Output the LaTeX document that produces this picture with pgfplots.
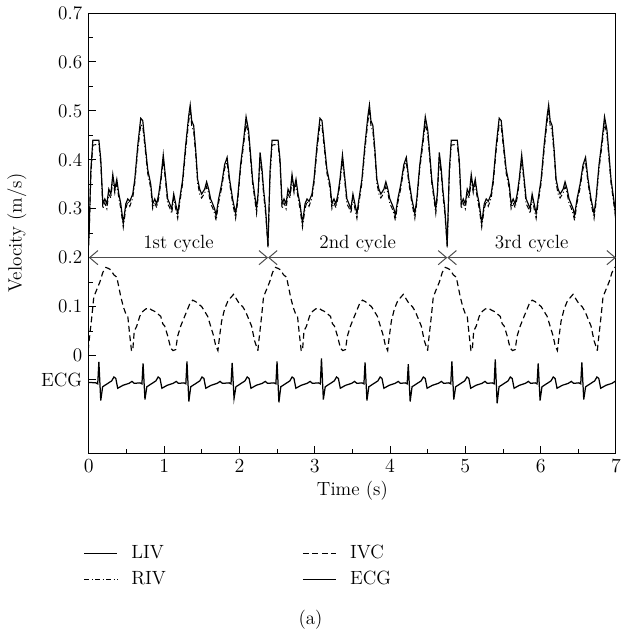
\documentclass[border=0pt]{standalone}
\usepackage{pgfplots}
\pgfplotsset{compat=1.18}
\usepackage{pgfplotstable}
\usetikzlibrary{arrows.meta}

% one breathing cycle of the vein velocities (s, m/s); the chart repeats it
\pgfplotstableread{
t      liv    riv
0.000  0.235  0.225
0.027  0.380  0.370
0.053  0.440  0.430
0.133  0.440  0.432
0.159  0.400  0.390
0.186  0.310  0.300
0.212  0.320  0.312
0.239  0.310  0.300
0.265  0.340  0.330
0.292  0.330  0.322
0.318  0.370  0.360
0.345  0.340  0.332
0.371  0.360  0.350
0.398  0.330  0.322
0.424  0.310  0.300
0.457  0.270  0.262
0.491  0.310  0.300
0.517  0.320  0.315
0.544  0.315  0.305
0.583  0.330  0.322
0.610  0.360  0.352
0.650  0.430  0.420
0.689  0.485  0.472
0.716  0.480  0.468
0.742  0.440  0.430
0.782  0.380  0.372
0.822  0.350  0.342
0.848  0.310  0.300
0.875  0.320  0.312
0.901  0.310  0.302
0.928  0.330  0.322
0.955  0.360  0.352
0.988  0.410  0.400
1.021  0.360  0.352
1.047  0.320  0.310
1.074  0.310  0.302
1.100  0.300  0.290
1.127  0.330  0.322
1.153  0.310  0.300
1.180  0.290  0.280
1.207  0.320  0.312
1.246  0.360  0.352
1.286  0.430  0.420
1.326  0.490  0.478
1.346  0.512  0.500
1.366  0.480  0.470
1.392  0.470  0.458
1.419  0.420  0.410
1.445  0.360  0.352
1.472  0.340  0.330
1.498  0.330  0.322
1.538  0.340  0.332
1.564  0.355  0.345
1.591  0.340  0.332
1.617  0.320  0.310
1.644  0.310  0.302
1.670  0.300  0.290
1.690  0.286  0.276
1.723  0.320  0.312
1.763  0.350  0.342
1.803  0.390  0.382
1.836  0.405  0.395
1.869  0.360  0.352
1.909  0.320  0.312
1.949  0.290  0.280
1.975  0.320  0.312
2.015  0.390  0.382
2.055  0.440  0.430
2.088  0.488  0.475
2.121  0.460  0.450
2.148  0.410  0.400
2.174  0.360  0.352
2.201  0.330  0.322
2.227  0.300  0.290
2.247  0.330  0.322
2.274  0.415  0.405
2.300  0.380  0.370
2.320  0.340  0.330
2.347  0.300  0.290
2.380  0.224  0.220
}\veins

% IVC, one cycle
\pgfplotstableread{
t       ivc
-0.009  0.010
0.000   0.025
0.040   0.080
0.066   0.120
0.106   0.135
0.146   0.150
0.186   0.170
0.225   0.180
0.259   0.178
0.292   0.175
0.331   0.165
0.371   0.160
0.398   0.140
0.424   0.120
0.457   0.100
0.491   0.085
0.517   0.080
0.544   0.040
0.566   0.010
0.583   0.010
0.603   0.050
0.636   0.060
0.676   0.080
0.716   0.090
0.756   0.095
0.795   0.097
0.835   0.093
0.875   0.090
0.915   0.085
0.955   0.080
0.981   0.065
1.008   0.060
1.047   0.040
1.087   0.015
1.118   0.010
1.153   0.012
1.180   0.040
1.220   0.060
1.259   0.075
1.299   0.090
1.339   0.105
1.379   0.113
1.419   0.110
1.458   0.105
1.498   0.100
1.538   0.090
1.578   0.080
1.617   0.060
1.657   0.040
1.684   0.020
1.714   0.010
1.737   0.040
1.763   0.070
1.803   0.095
1.843   0.110
1.883   0.118
1.922   0.125
1.962   0.115
2.002   0.105
2.042   0.100
2.081   0.090
2.121   0.075
2.161   0.060
2.201   0.030
2.245   0.010
}\ivc

\begin{document}
\fontsize{11.5}{13.5}\selectfont
\begin{tikzpicture}
\begin{axis}[
    name=ax,
    scale only axis,
    width=316.8pt,
    height=264.6pt,
    xmin=0, xmax=7,
    ymin=-0.2, ymax=0.7,
    xtick={0,1,...,7},
    minor xtick={0.5,1.5,...,6.5},
    ytick={-0.05,0,0.1,0.2,0.3,0.4,0.5,0.6,0.7},
    yticklabels={ECG,0,0.1,0.2,0.3,0.4,0.5,0.6,0.7},
    minor ytick={0.05,0.15,...,0.65},
    xtick pos=lower, ytick pos=left,
    tick align=inside,
    major tick length=4.2pt,
    minor tick length=2.5pt,
    axis line style={line width=0.6pt},
    every tick/.style={black, line width=0.6pt},
    xlabel={Time (s)},
    ylabel={Velocity (m/s)},
    xlabel style={at={(axis description cs:0.5,0)}, anchor=center, yshift=-22.2pt},
    ylabel style={at={(axis description cs:-0.1364,0.5)}, anchor=center},
    legend columns=2,
    legend style={draw=none, fill=none, inner sep=0pt,
        at={(axis description cs:0,0)}, anchor=north west,
        xshift=-3.3pt, yshift=-53pt,
        nodes={inner sep=2pt, anchor=west},
        /tikz/every odd column/.append style={column sep=6pt},
        /tikz/every even column/.append style={column sep=80pt},
        row sep=2pt},
    legend image code/.code={\draw[#1] (0cm,0cm) -- (0.7cm,0cm);},
    clip=true,
]
\addplot[black, line width=0.7pt] table[x=t, y=liv] {\veins};
\addlegendentry{LIV}
\addplot[black, line width=0.7pt, dash pattern=on 3.5pt off 2.2pt] table[x=t, y=ivc] {\ivc};
\addlegendentry{IVC}
\addplot[black, line width=0.6pt, dash pattern=on 3pt off 1.5pt on 0.6pt off 1.5pt] table[x=t, y=riv] {\veins};
\addlegendentry{RIV}
\addplot[black, line width=0.75pt] coordinates {
(0.000,-0.055) (0.093,-0.056) (0.118,-0.058) (0.133,-0.013) (0.158,-0.092) (0.183,-0.064) (0.243,-0.058) (0.303,-0.052) (0.333,-0.044) (0.358,-0.047) (0.383,-0.067) (0.453,-0.061) (0.533,-0.057) (0.573,-0.053) (0.603,-0.057)
(0.680,-0.056) (0.705,-0.058) (0.720,-0.016) (0.745,-0.090) (0.770,-0.064) (0.830,-0.058) (0.890,-0.052) (0.920,-0.044) (0.945,-0.047) (0.970,-0.067) (1.040,-0.061) (1.120,-0.057) (1.160,-0.053) (1.190,-0.057)
(1.263,-0.056) (1.288,-0.058) (1.303,-0.012) (1.328,-0.094) (1.353,-0.064) (1.413,-0.058) (1.473,-0.052) (1.503,-0.044) (1.528,-0.047) (1.553,-0.067) (1.623,-0.061) (1.703,-0.057) (1.743,-0.053) (1.773,-0.057)
(1.863,-0.056) (1.888,-0.058) (1.903,-0.015) (1.928,-0.088) (1.953,-0.064) (2.013,-0.058) (2.073,-0.052) (2.103,-0.044) (2.128,-0.047) (2.153,-0.067) (2.223,-0.061) (2.303,-0.057) (2.343,-0.053) (2.373,-0.057)
(2.459,-0.056) (2.484,-0.058) (2.499,-0.012) (2.524,-0.096) (2.549,-0.064) (2.609,-0.058) (2.669,-0.052) (2.699,-0.044) (2.724,-0.047) (2.749,-0.067) (2.819,-0.061) (2.899,-0.057) (2.939,-0.053) (2.969,-0.057)
(3.049,-0.056) (3.074,-0.058) (3.089,-0.006) (3.114,-0.090) (3.139,-0.064) (3.199,-0.058) (3.259,-0.052) (3.289,-0.044) (3.314,-0.047) (3.339,-0.067) (3.409,-0.061) (3.489,-0.057) (3.529,-0.053) (3.559,-0.057)
(3.628,-0.056) (3.653,-0.058) (3.668,-0.014) (3.693,-0.092) (3.718,-0.064) (3.778,-0.058) (3.838,-0.052) (3.868,-0.044) (3.893,-0.047) (3.918,-0.067) (3.988,-0.061) (4.068,-0.057) (4.108,-0.053) (4.138,-0.057)
(4.202,-0.056) (4.227,-0.058) (4.242,-0.018) (4.267,-0.094) (4.292,-0.064) (4.352,-0.058) (4.412,-0.052) (4.442,-0.044) (4.467,-0.047) (4.492,-0.067) (4.562,-0.061) (4.642,-0.057) (4.682,-0.053) (4.712,-0.057)
(4.781,-0.056) (4.806,-0.058) (4.821,-0.012) (4.846,-0.090) (4.871,-0.064) (4.931,-0.058) (4.991,-0.052) (5.021,-0.044) (5.046,-0.047) (5.071,-0.067) (5.141,-0.061) (5.221,-0.057) (5.261,-0.053) (5.291,-0.057)
(5.357,-0.056) (5.382,-0.058) (5.397,-0.008) (5.422,-0.098) (5.447,-0.064) (5.507,-0.058) (5.567,-0.052) (5.597,-0.044) (5.622,-0.047) (5.647,-0.067) (5.717,-0.061) (5.797,-0.057) (5.837,-0.053) (5.867,-0.057)
(5.927,-0.056) (5.952,-0.058) (5.967,-0.016) (5.992,-0.092) (6.017,-0.064) (6.077,-0.058) (6.137,-0.052) (6.167,-0.044) (6.192,-0.047) (6.217,-0.067) (6.287,-0.061) (6.367,-0.057) (6.407,-0.053) (6.437,-0.057)
(6.507,-0.056) (6.532,-0.058) (6.547,-0.014) (6.572,-0.090) (6.597,-0.064) (6.657,-0.058) (6.717,-0.052) (6.747,-0.044) (6.772,-0.047) (6.797,-0.067) (6.867,-0.061) (6.947,-0.057) (6.987,-0.053) (7.000,-0.055)
};
\addlegendentry{ECG}
% later breathing cycles
\addplot[black, line width=0.7pt, forget plot] table[x expr=\thisrow{t}+2.38, y=liv] {\veins};
\addplot[black, line width=0.7pt, forget plot] table[x expr=\thisrow{t}+4.76, y=liv] {\veins};
\addplot[black, line width=0.6pt, dash pattern=on 3pt off 1.5pt on 0.6pt off 1.5pt, forget plot] table[x expr=\thisrow{t}+2.38, y=riv] {\veins};
\addplot[black, line width=0.6pt, dash pattern=on 3pt off 1.5pt on 0.6pt off 1.5pt, forget plot] table[x expr=\thisrow{t}+4.76, y=riv] {\veins};
\addplot[black, line width=0.7pt, dash pattern=on 3.5pt off 2.2pt, forget plot] table[x expr=\thisrow{t}+2.254, y=ivc] {\ivc};
\addplot[black, line width=0.7pt, dash pattern=on 3.5pt off 2.2pt, forget plot] table[x expr=\thisrow{t}+4.508, y=ivc] {\ivc};
\addplot[black, line width=0.7pt, dash pattern=on 3.5pt off 2.2pt, forget plot] table[x expr=\thisrow{t}+6.762, y=ivc] {\ivc};
% cycle markers
\draw[black!70, line width=0.6pt, {Straight Barb[length=5pt,width=8.5pt]}-{Straight Barb[length=5pt,width=8.5pt]}] (axis cs:0,0.2) -- (axis cs:2.38,0.2);
\draw[black!70, line width=0.6pt, {Straight Barb[length=5pt,width=8.5pt]}-{Straight Barb[length=5pt,width=8.5pt]}] (axis cs:2.38,0.2) -- (axis cs:4.76,0.2);
\draw[black!70, line width=0.6pt, {Straight Barb[length=5pt,width=8.5pt]}-{Straight Barb[length=5pt,width=8.5pt]}] (axis cs:4.76,0.2) -- (axis cs:7,0.2);
\node[anchor=south, inner sep=3pt] at (axis cs:1.19,0.2) {1st cycle};
\node[anchor=south, inner sep=3pt] at (axis cs:3.57,0.2) {2nd cycle};
\node[anchor=south, inner sep=3pt] at (axis cs:5.88,0.2) {3rd cycle};
\end{axis}
\node at ([shift={(133.2pt,-100.2pt)}]ax.south west) {(a)};
\path ([shift={(-53.4pt,-111pt)}]ax.south west) rectangle ([shift={(2.4pt,7.2pt)}]ax.north east);
\end{tikzpicture}
\end{document}
